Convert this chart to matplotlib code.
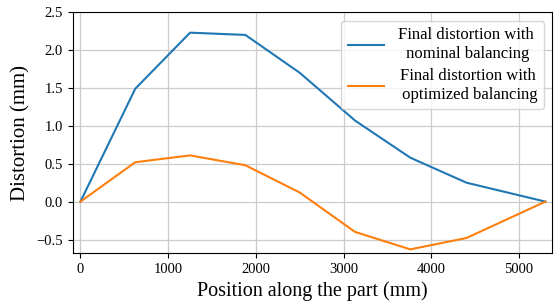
import matplotlib
matplotlib.use("Agg")
import matplotlib.pyplot as plt

# positions along the part (mm)
position = [0, 625, 1250, 1880, 2500, 3130, 3760, 4400, 5300]
nominal = [0.0, 1.49, 2.23, 2.20, 1.70, 1.07, 0.58, 0.25, 0.0]
optimized = [0.0, 0.52, 0.61, 0.48, 0.12, -0.40, -0.63, -0.48, 0.0]

plt.rcParams['font.family'] = ['Liberation Serif', 'DejaVu Serif']

fig, ax = plt.subplots(figsize=(5.58, 3.05), dpi=100)
ax.plot(position, nominal, color='#1f77b4', lw=1.5,
        label='Final distortion with\n nominal balancing')
ax.plot(position, optimized, color='#ff7f0e', lw=1.5,
        label='Final distortion with\n optimized balancing')

ax.set_xlim(-90, 5380)
ax.set_ylim(-0.68, 2.5)
ax.set_xticks([0, 1000, 2000, 3000, 4000, 5000])
ax.set_yticks([-0.5, 0.0, 0.5, 1.0, 1.5, 2.0, 2.5])
ax.grid(True, color='#cccccc', lw=0.9)
ax.tick_params(labelsize=10.5)
ax.set_xlabel('Position along the part (mm)', fontsize=14.5)
ax.set_ylabel('Distortion (mm)', fontsize=15)
leg = ax.legend(loc='upper right', fontsize=12, handlelength=2.2,
                labelspacing=0.4)
for t in leg.get_texts():
    t.set_multialignment('center')

fig.subplots_adjust(left=0.13, right=0.99, top=0.96, bottom=0.17)
fig.savefig('out.png')
